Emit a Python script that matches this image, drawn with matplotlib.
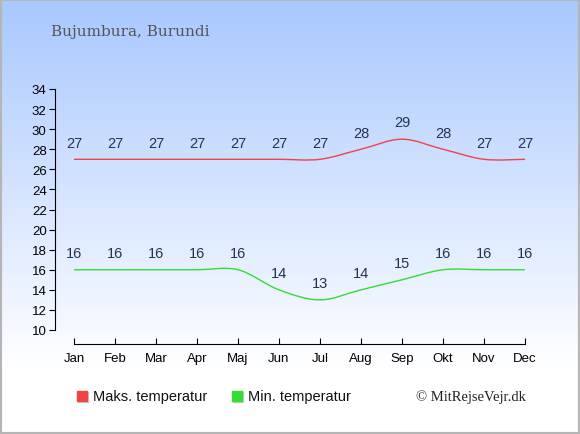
import matplotlib
matplotlib.use("Agg")
import matplotlib.pyplot as plt
import numpy as np
from matplotlib.path import Path
from matplotlib.patches import PathPatch, Rectangle

months = ["Jan", "Feb", "Mar", "Apr", "Maj", "Jun", "Jul", "Aug", "Sep", "Okt", "Nov", "Dec"]
max_temp = [27, 27, 27, 27, 27, 27, 27, 28, 29, 28, 27, 27]
min_temp = [16, 16, 16, 16, 16, 14, 13, 14, 15, 16, 16, 16]
y_ticks = list(range(10, 35, 2))

W, H = 580, 435
plt.rcParams["font.family"] = ["Liberation Sans", "DejaVu Sans"]


def smooth_path(xs, ys, t=0.5):
    # cubic bezier through the points (cardinal spline style)
    xs = np.asarray(xs, float)
    ys = np.asarray(ys, float)
    n = len(xs)
    verts = [(xs[0], ys[0])]
    codes = [Path.MOVETO]
    for i in range(n - 1):
        x0, y0 = (xs[i - 1], ys[i - 1]) if i > 0 else (xs[i], ys[i])
        x3, y3 = (xs[i + 2], ys[i + 2]) if i + 2 < n else (xs[i + 1], ys[i + 1])
        c1 = (xs[i] + (xs[i + 1] - x0) * t / 3, ys[i] + (ys[i + 1] - y0) * t / 3)
        c2 = (xs[i + 1] - (x3 - xs[i]) * t / 3, ys[i + 1] - (y3 - ys[i]) * t / 3)
        verts += [c1, c2, (xs[i + 1], ys[i + 1])]
        codes += [Path.CURVE4] * 3
    return Path(verts, codes)


fig = plt.figure(figsize=(W / 100, H / 100), dpi=100)

# background gradient
bg = fig.add_axes([0, 0, 1, 1], zorder=-10)
grad = np.linspace(0, 1, 256)
top = np.array([168, 200, 255]) / 255
white = np.array([1.0, 1.0, 1.0])
k = np.clip(grad / 0.85, 0, 1)[:, None]
img = top * (1 - k) + white * k
bg.imshow(img[:, None, :], aspect="auto", extent=[0, 1, 0, 1], origin="upper")
bg.set_axis_off()
bg.add_patch(Rectangle((0, 0), 1, 1, transform=bg.transAxes, fill=False,
                       edgecolor="#b5b5b5", linewidth=3))

# axes placement in pixels
left_px, right_px = 55, 545
top_px, bot_px = 90, 331
ax = fig.add_axes([left_px / W, (H - bot_px) / H, (right_px - left_px) / W, (bot_px - top_px) / H])
ax.patch.set_alpha(0)
ax.set_xlim(-19 / 41, 11 + 20 / 41)
ax.set_ylim(10, 34)

x = np.arange(len(months))
ax.add_patch(PathPatch(smooth_path(x, max_temp), fill=False, edgecolor="#ee4444", linewidth=1))
ax.add_patch(PathPatch(smooth_path(x, min_temp), fill=False, edgecolor="#33dd33", linewidth=1))

for xi, v in zip(x, max_temp):
    ax.annotate(str(v), (xi, v), xytext=(0, 7), textcoords="offset points",
                ha="center", va="bottom", fontsize=10.5, color="#223355")
for xi, v in zip(x, min_temp):
    ax.annotate(str(v), (xi, v), xytext=(0, 7), textcoords="offset points",
                ha="center", va="bottom", fontsize=10.5, color="#223355")

ax.spines["top"].set_visible(False)
ax.spines["right"].set_visible(False)
ax.spines["bottom"].set_position(("outward", 10))
ax.spines["bottom"].set_bounds(0, 11)
ax.spines["left"].set_bounds(10, 34)
ax.set_xticks(x)
ax.set_xticklabels(months)
ax.set_yticks(y_ticks)
ax.tick_params(axis="x", direction="in", length=4, labelsize=9.5, pad=6)
ax.tick_params(axis="y", direction="out", length=4, labelsize=9.5, pad=2)

fig.text(51 / W, 1 - 32 / H, "Bujumbura, Burundi", fontsize=11, family="DejaVu Serif",
         color="#555555", va="center", ha="left")

# legend
ly = 1 - 397 / H
for px, color, label in [(77, "#ee4444", "Maks. temperatur"), (232, "#33dd33", "Min. temperatur")]:
    fig.patches.append(Rectangle(((px + 1) / W, ly - 6 / H), 10 / W, 10 / H,
                                 transform=fig.transFigure, color="#cccccc"))
    fig.patches.append(Rectangle((px / W, ly - 5 / H), 10 / W, 10 / H,
                                 transform=fig.transFigure, color=color))
    fig.text((px + 16) / W, ly, label, fontsize=10.5, va="center", ha="left", color="#111111")

fig.text(526 / W, ly, "© MitRejseVejr.dk", fontsize=10.5, family="Liberation Serif",
         va="center", ha="right", color="#222222")

fig.savefig("out.png", dpi=100)
